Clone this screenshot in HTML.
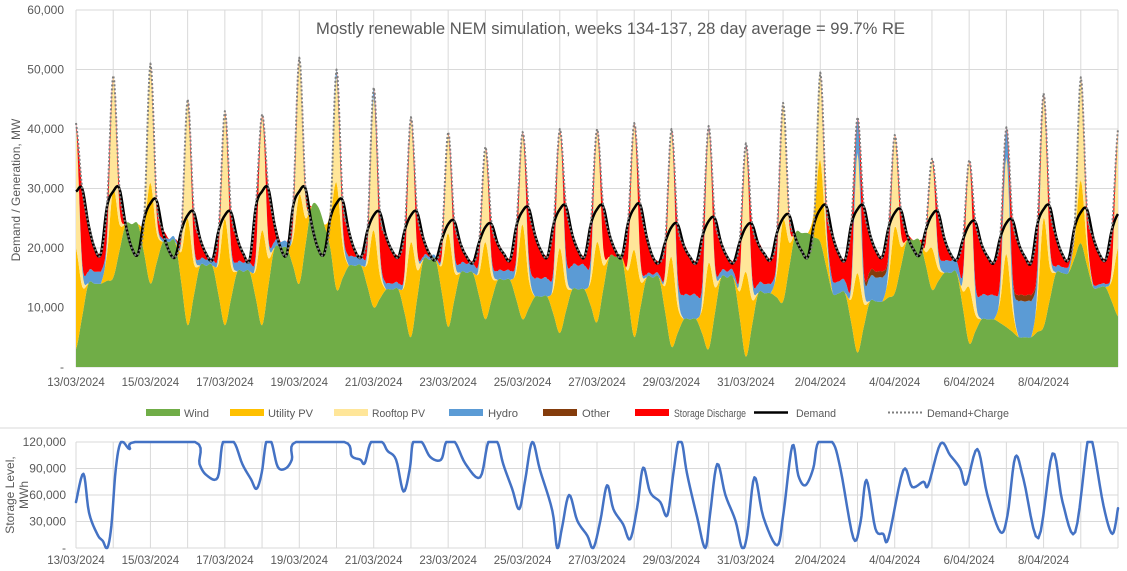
<!DOCTYPE html>
<html><head><meta charset="utf-8"><style>
html,body{margin:0;padding:0;background:#fff;}
svg{display:block;font-family:"Liberation Sans",Arial,sans-serif;}
</style></head><body>
<svg id="chart" width="1127" height="571" viewBox="0 0 1127 571" xmlns="http://www.w3.org/2000/svg">
<rect x="0" y="0" width="1127" height="571" fill="#fff"/>
<g id="grid"></g>
<g id="areas"></g>
<g id="lines"></g>
<g id="axes"></g>
<text x="316" y="34" textLength="589" lengthAdjust="spacingAndGlyphs" font-size="17" fill="#595959">Mostly renewable NEM simulation, weeks 134-137, 28 day average = 99.7% RE</text>
<text transform="translate(20,190) rotate(-90)" text-anchor="middle" font-size="12" fill="#595959">Demand / Generation, MW</text>
<text transform="translate(14,495) rotate(-90)" text-anchor="middle" font-size="12" fill="#595959">Storage Level,</text>
<text transform="translate(28,495) rotate(-90)" text-anchor="middle" font-size="12" fill="#595959">MWh</text>
<line x1="0" y1="428" x2="1127" y2="428" stroke="#d9d9d9" stroke-width="1"/>
<g font-size="11" fill="#595959">
<g><rect x="146" y="409" width="34" height="7" fill="#70ad47"/><text x="184" y="417" textLength="25" lengthAdjust="spacingAndGlyphs">Wind</text></g>
<g><rect x="230" y="409" width="34" height="7" fill="#ffc000"/><text x="268" y="417" textLength="45" lengthAdjust="spacingAndGlyphs">Utility PV</text></g>
<g><rect x="334" y="409" width="34" height="7" fill="#ffe699"/><text x="372" y="417" textLength="53" lengthAdjust="spacingAndGlyphs">Rooftop PV</text></g>
<g><rect x="449" y="409" width="34" height="7" fill="#5b9bd5"/><text x="488" y="417" textLength="30" lengthAdjust="spacingAndGlyphs">Hydro</text></g>
<g><rect x="543" y="409" width="34" height="7" fill="#843c0c"/><text x="582" y="417" textLength="28" lengthAdjust="spacingAndGlyphs">Other</text></g>
<g><rect x="635" y="409" width="34" height="7" fill="#ff0000"/><text x="674" y="417" textLength="72" lengthAdjust="spacingAndGlyphs">Storage Discharge</text></g>
<g><line x1="754" y1="412.5" x2="788" y2="412.5" stroke="#000" stroke-width="2.5"/><text x="796" y="417" textLength="40" lengthAdjust="spacingAndGlyphs">Demand</text></g>
<g><line x1="888" y1="412.5" x2="922" y2="412.5" stroke="#7f7f7f" stroke-width="2" stroke-dasharray="2 2"/><text x="927" y="417" textLength="82" lengthAdjust="spacingAndGlyphs">Demand+Charge</text></g>
</g>
</svg>
<script>
// ---- data (thousands of MW), 6 samples per day over 28 days, + final point ----
const wind = [3,8.5,14,14,14,14.5, 15,19.5,24,24,24,19, 14,17.5,21,21,21,14, 7,12,17,17,17,12, 7,11.5,16,16,16,11.5, 7,13.5,20,20,20,17, 14,20.5,27,27,24,20, 13,15,17,17,17,13.5, 10,11.5,13,13,13,9, 5,11.5,18,18,18,12.4, 6.7,11.3,15.8,15.8,15.8,11.9, 8,11.3,14.6,14.6,14.6,11.3, 8,9.9,11.8,11.8,11.8,8.8, 5.7,9.4,13,13,13,10.3, 7.5,13,18.5,18.5,18.5,11.8, 5,10,15,15,15,9.2, 3.4,5.7,8,8,8,5.5, 3,9,15,15,15,8.4, 1.7,7,12.4,12.4,12.4,11.7, 11,16.8,22.5,22.5,22.5,21.8, 21,16.7,12.4,12.4,12.4,7.4, 2.4,6.7,11,11,11,11.7, 12.4,16.9,21.3,21.3,21.3,17.2, 13,14.4,15.8,15.8,15.8,9.9, 4,6,8,8,8,7.4, 6.7,5.9,5,5,5,5.9, 6.7,11.3,15.8,15.8,15.8,18.3, 20.8,17.1,13.4,13.4,13.4,11, 8.5];
const utilityPV = [17,5,0,0,0,4.5, 15,4.5,0,0,0,5.1, 17,5.1,0,0,0,5.4, 18,5.4,0,0,0,5.4, 18,5.4,0,0,0,4.8, 16,4.8,0,0,0,4.5, 15,4.5,0,0,0,5.4, 18,5.4,0,0,0,3.9, 13,3.9,0,0,0,4.8, 16,4.8,0,0,0,4.7, 15.8,4.7,0,0,0,3.9, 13,3.9,0,0,0,4.8, 16,4.8,0,0,0,4.3, 14.3,4.3,0,0,0,4.1, 13.5,4.1,0,0,0,4.4, 14.7,4.4,0,0,0,4.5, 15.1,4.5,0,0,0,4.4, 14.5,4.4,0,0,0,4.3, 14.3,4.3,0,0,0,4.1, 13.7,4.1,0,0,0,4.1, 13.8,4.1,0,0,0,4, 13.4,4,0,0,0,3.3, 11.1,3.3,0,0,0,2.1, 7,2.1,0,0,0,2.8, 9.4,2.8,0,0,0,3.7, 12.3,3.7,0,0,0,5.5, 18.3,5.5,0,0,0,3.2, 10.6,3.2,0,0,0,3.5, 11.5];
const rooftopPV = [20.5,3,0,0,0,1.9, 19,2.9,0,0,0,2, 20,3,0,0,0,2, 20,3,0,0,0,1.8, 18,2.7,0,0,0,2, 19.5,2.9,0,0,0,2.3, 23,3.5,0,0,0,1.8, 18,2.7,0,0,0,2.3, 22.5,3.4,0,0,0,2.1, 21,3.2,0,0,0,1.7, 17,2.6,0,0,0,1.6, 16,2.4,0,0,0,1.6, 15.5,2.3,0,0,0,2, 20,3,0,0,0,1.9, 19,2.9,0,0,0,2.1, 21.3,3.2,0,0,0,2.2, 21.5,3.2,0,0,0,2.3, 22.5,3.4,0,0,0,2.1, 21.1,3.2,0,0,0,2, 19.7,3,0,0,0,1.5, 14.7,2.2,0,0,0,2, 20.2,3,0,0,0,1.6, 15.5,2.3,0,0,0,1.5, 15,2.3,0,0,0,2.1, 21.4,3.2,0,0,0,1.6, 16.3,2.4,0,0,0,2.1, 21,3.2,0,0,0,1.7, 17.3,2.6,0,0,0,2, 20];
const hydro = [0.5,1,2,2,2,1, 0,0,0,0,0,0, 0,0.3,0.5,0.5,0.5,0.3, 0,0.5,1,1,1,0.5, 0,0.8,1.5,1.5,1.5,0.8, 0,0.5,1,1,1,0.5, 0,0,0,0,0,0, 1,0.8,1.5,1.5,1.5,0.8, 1.5,0.8,1,1,1,0.5, 0,0.3,0.5,0.5,0.5,0.3, 0,0.8,1.5,1.5,1.5,0.8, 0,0.8,1.5,1.5,1.5,0.8, 0,1.5,3,3,3,1.5, 0,2,4,4,4,2, 0,0,0,0,0,0, 0,0.3,0.5,0.5,0.5,0.3, 0,2,4,4,4,2, 0.5,0.5,1,1,1,0.5, 0.5,0.8,1.5,1.5,1.5,0.8, 0,0,0,0,0,0, 0,1,2,2,2,1, 6,2,4,4,4,2, 0,0,0,0,0,0, 0,1,2,2,2,1, 0,2,4,4,4,2, 5,3,6,6,6,3, 0,0.5,1,1,1,0.5, 0,0.3,0.5,0.5,0.5,0.3, 0];
const other = [0,0,0,0,0,0, 0,0,0,0,0,0, 0,0,0,0,0,0, 0,0,0,0,0,0, 0,0,0,0,0,0, 0,0,0,0,0,0, 0,0,0,0,0,0, 0,0,0,0,0,0, 0,0,0,0,0,0, 0,0,0,0,0,0, 0,0,0,0,0,0, 0,0,0,0,0,0, 0,0,0,0,0,0, 0,0,0,0,0,0, 0,0,0,0,0,0, 0,0,0,0,0,0, 0,0,0,0,0,0, 0,0,0,0,0,0, 0,0,0,0,0,0, 0,0,0,0,0,0, 0,0,0,0,0,0, 0,0.5,1,1,1,0.5, 0,0,0,0,0,0, 0,0,0,0,0,0, 0,0,0,0,0,0, 0,0.5,1,1,1,0.5, 0,0,0,0,0,0, 0,0,0,0,0,0, 0];
const storageDischarge = [0,12.5,8,4,3,5.1, 0,3.1,0,0,0,0, 0,2.1,1.3,0,0,1.3, 0,5.1,3.6,1,0,3.3, 0,5.6,4.1,1.5,0.5,7.9, 0,8.3,3,0,0,2.7, 0,1.5,0,0,0,0, 0,4.1,4.3,1,0,2.5, 0,6.4,7.9,5.5,4.5,6.6, 0,6.2,3.1,0.5,0,2.4, 0,5.1,3.4,1.2,0.2,2.8, 0,5.6,4.6,2.9,1.9,5.2, 0,8.2,7.4,4.7,3.7,7.4, 0,8.3,5.3,2.5,1.5,5.7, 0,7,3.8,1,0,5.9, 0,9.3,6.4,3,2,4.8, 0,8.6,8.4,6.5,5.5,7.8, 0,7.7,4.9,2.5,1.5,5.7, 0,8.7,6.8,5.1,4.1,3.9, 0,1.6,0,0,0,0, 0,3,7.6,4.6,3.6,9.6, 0,10.8,6.3,3.5,2.5,4.3, 0,3.9,0.9,0,0,2.2, 0,6.2,3.8,1.2,0.2,5.6, 0,10.4,8.6,6.5,5.5,7, 0,9.2,8.7,6.5,5.5,7, 0,6.5,5.2,2.2,1.2,0, 0,3.3,7.9,5.1,4.1,6.2, 0];
const demand = [29.5,30,24,20,19,27, 29.5,30,24,20,19,25, 27.5,28,22.8,19.5,18.5,23, 25.5,26,21.6,19,18,23, 25.5,26,21.6,19,18,27, 29.5,30,24,20,19,27, 29.5,30,24,20,19,25, 27.5,28,22.8,19.5,18.5,23, 25.5,26,21.9,19.5,18.5,23, 25.5,26,21.6,19,18,21.5, 24,24.5,20.7,18.5,17.5,21, 23.5,24,20.7,19,18,23.7, 26.2,26.7,22.2,19.5,18.5,24, 26.5,27,22.3,19.5,18.5,24, 26.5,27,22.3,19.5,18.5,24.2, 26.7,27.2,21.9,18.5,17.5,21, 23.5,24,20.4,18.5,17.5,22, 24.5,25,20.9,18.5,17.5,21, 23.5,24,20.7,19,18,22.5, 25,25.5,21.7,19.5,18.5,24, 26.5,27,22,19,18,24, 26.5,27,22.3,19.5,18.5,23.4, 25.9,26.4,22.2,19.8,18.8,23, 25.5,26,21.6,19,18,21.4, 23.9,24.4,20.6,18.5,17.5,21.7, 24.2,24.7,20.7,18.5,17.5,24, 26.5,27,22,19,18,23.5, 26,26.5,21.8,19,18,23, 25.7];
const demandPlusCharge = [41,30,24,20,19,27, 49,30,24,20,19,25, 51,28,22.8,19.5,18.5,23, 45,26,21.6,19,18,23, 43,26,21.6,19,18,27, 42.5,30,24,20,19,27, 52,30,24,20,19,25, 50,28,22.8,19.5,18.5,23, 47,26,21.9,19.5,18.5,23, 42,26,21.6,19,18,21.5, 39.5,24.5,20.7,18.5,17.5,21, 37,24,20.7,19,18,23.7, 39.5,26.7,22.2,19.5,18.5,24, 40,27,22.3,19.5,18.5,24, 40,27,22.3,19.5,18.5,24.2, 41,27.2,21.9,18.5,17.5,21, 40,24,20.4,18.5,17.5,22, 40.5,25,20.9,18.5,17.5,21, 37.6,24,20.7,19,18,22.5, 44.4,25.5,21.7,19.5,18.5,24, 49.5,27,22,19,18,24, 42,27,22.3,19.5,18.5,23.4, 39,26.4,22.2,19.8,18.8,23, 35,26,21.6,19,18,21.4, 34.8,24.4,20.6,18.5,17.5,21.7, 40.3,24.7,20.7,18.5,17.5,24, 46,27,22,19,18,23.5, 48.7,26.5,21.8,19,18,23, 40];
// storage level (thousand MWh) at day offsets
const storageDays = [0,0.2,0.35,0.58,0.72,0.84,0.95,1.07,1.21,1.44,1.59,3.2,3.32,3.52,3.81,3.95,4.24,4.47,4.7,4.85,4.99,5.11,5.25,5.42,5.63,5.8,5.91,7.21,7.41,7.64,7.76,7.93,8.22,8.37,8.6,8.8,8.97,9.06,9.29,9.52,9.81,9.95,10.18,10.47,10.86,11.08,11.32,11.48,11.72,11.91,12.07,12.26,12.47,12.8,12.93,13.06,13.25,13.47,13.74,13.9,14.09,14.27,14.44,14.7,14.89,15.08,15.24,15.43,15.7,15.89,16.05,16.18,16.29,16.42,16.69,16.91,17.04,17.23,17.45,17.72,17.9,18.04,18.23,18.47,18.84,19.01,19.25,19.41,19.6,19.81,19.95,20.32,20.54,20.89,21.08,21.24,21.48,21.69,21.83,22.23,22.47,22.77,22.9,23.23,23.49,23.76,23.92,24.22,24.49,24.84,25.03,25.24,25.46,25.86,26.24,26.51,26.85,27.18,27.31,27.61,27.85,28];
const storageLevel = [52,84,40,15,8,0,25,90,120,112,120,120,95,82,80,120,120,95,78,67,85,120,120,92,90,100,120,120,104,100,96,120,120,110,100,64,90,120,120,103,100,120,120,95,80,120,120,95,67,44,77,120,88,42,0,23,60,31,14,0,31,71,44,27,10,46,91,63,52,37,84,120,118,84,35,0,39,95,60,31,0,16,80,35,3,39,116,82,71,90,120,120,90,11,29,77,22,16,11,88,69,75,71,118,105,90,72,112,60,18,37,103,78,11,107,52,18,120,120,48,16,45];
const xTickLabels = ["13/03/2024","15/03/2024","17/03/2024","19/03/2024","21/03/2024","23/03/2024","25/03/2024","27/03/2024","29/03/2024","31/03/2024","2/04/2024","4/04/2024","6/04/2024","8/04/2024"];
const yTicksTop = [0,10000,20000,30000,40000,50000,60000];
const yTicksBottom = [0,30000,60000,90000,120000];

const NS = "http://www.w3.org/2000/svg";
const X0 = 76, X1 = 1118, DAYS = 28, SAMPLES_PER_DAY = 6, SUB = 6;
const xDay = d => X0 + d * (X1 - X0) / DAYS;
const yTop = v => 367 - v * (357 / 60000);
const yBot = v => 548 - v * (106 / 120000);
function mk(tag, attrs, parent) {
  const e = document.createElementNS(NS, tag);
  for (const k in attrs) e.setAttribute(k, attrs[k]);
  parent.appendChild(e);
  return e;
}
// Catmull-Rom upsampling (rendering smoothness only)
function smooth(arr, lo, hi) {
  const out = [];
  const m = arr.length;
  for (let i = 0; i < m - 1; i++) {
    const p0 = arr[Math.max(0, i - 1)], p1 = arr[i], p2 = arr[i + 1], p3 = arr[Math.min(m - 1, i + 2)];
    for (let s = 0; s < SUB; s++) {
      const t = s / SUB, t2 = t * t, t3 = t2 * t;
      let v = 0.5 * (2 * p1 + (-p0 + p2) * t + (2 * p0 - 5 * p1 + 4 * p2 - p3) * t2 + (-p0 + 3 * p1 - 3 * p2 + p3) * t3);
      v = Math.max(lo, Math.min(hi, v));
      out.push(v);
    }
  }
  out.push(arr[m - 1]);
  return out;
}
const grid = document.getElementById('grid');
const axes = document.getElementById('axes');
const areas = document.getElementById('areas');
const lines = document.getElementById('lines');

for (const v of yTicksTop) {
  const l = mk('line', {x1: X0, x2: X1, y1: yTop(v), y2: yTop(v), stroke: '#d9d9d9', 'stroke-width': 1}, grid);
  
  
  const t = mk('text', {x: 64, y: yTop(v) + 4, 'text-anchor': 'end', 'font-size': 12, fill: '#595959'}, axes);
  t.textContent = v === 0 ? '-' : v.toLocaleString('en-US');
  
  
}
for (const v of yTicksBottom) {
  const l = mk('line', {x1: X0, x2: X1, y1: yBot(v), y2: yBot(v), stroke: '#d9d9d9', 'stroke-width': 1}, grid);
  
  
  const t = mk('text', {x: 66, y: yBot(v) + 4, 'text-anchor': 'end', 'font-size': 12, fill: '#595959'}, axes);
  t.textContent = v === 0 ? '-' : v.toLocaleString('en-US');
  
  
}
for (let d = 0; d <= DAYS; d++) {
  const a = mk('line', {x1: xDay(d), x2: xDay(d), y1: yTop(60000), y2: yTop(0), stroke: '#d9d9d9', 'stroke-width': 1}, grid);
  
  
  const b = mk('line', {x1: xDay(d), x2: xDay(d), y1: yBot(120000), y2: yBot(0), stroke: '#d9d9d9', 'stroke-width': 1}, grid);
  
  
}
xTickLabels.forEach((lab, i) => {
  const x = xDay(i * 2);
  const t1 = mk('text', {x: x, y: 386, 'text-anchor': 'middle', 'font-size': 11.5, fill: '#595959'}, axes);
  t1.textContent = lab;
  
  
  const t2 = mk('text', {x: x, y: 564, 'text-anchor': 'middle', 'font-size': 11.5, fill: '#595959'}, axes);
  t2.textContent = lab;
  
  
});

const layers = [
  {data: wind, color: '#70ad47', name: 'wind-area'},
  {data: utilityPV, color: '#ffc000', name: 'utility-pv-area'},
  {data: rooftopPV, color: '#ffe699', name: 'rooftop-pv-area'},
  {data: hydro, color: '#5b9bd5', name: 'hydro-area'},
  {data: other, color: '#843c0c', name: 'other-area'},
  {data: storageDischarge, color: '#ff0000', name: 'storage-discharge-area'}
];
const nS = (wind.length - 1) * SUB + 1;
const xs = i => xDay(i / (SAMPLES_PER_DAY * SUB));
let base = new Array(nS).fill(0);
for (const L of layers) {
  const sm = smooth(L.data, 0, 1000);
  const top = base.map((b, i) => b + sm[i]);
  let pts = [];
  for (let i = 0; i < nS; i++) pts.push(xs(i).toFixed(2) + ',' + yTop(top[i] * 1000).toFixed(2));
  for (let i = nS - 1; i >= 0; i--) pts.push(xs(i).toFixed(2) + ',' + yTop(base[i] * 1000).toFixed(2));
  const p = mk('polygon', {points: pts.join(' '), fill: L.color, stroke: 'none'}, areas);
  
  
  base = top;
}
function linePts(arr) {
  return smooth(arr, 0, 1000).map((v, i) => xs(i).toFixed(2) + ',' + yTop(v * 1000).toFixed(2)).join(' ');
}
const dem = mk('polyline', {points: linePts(demand), fill: 'none', stroke: '#000', 'stroke-width': 2.5, 'stroke-linejoin': 'round'}, lines);


const dc = mk('polyline', {points: linePts(demandPlusCharge), fill: 'none', stroke: '#7f7f7f', 'stroke-width': 2, 'stroke-dasharray': '2 2', 'stroke-linejoin': 'round'}, lines);



// storage level line (smoothed between read points)
const sd = smooth(storageDays, 0, 28);
const sv = smooth(storageLevel, 0, 120);
const sp = sd.map((d, i) => xDay(d).toFixed(2) + ',' + yBot(sv[i] * 1000).toFixed(2)).join(' ');
const sl = mk('polyline', {points: sp, fill: 'none', stroke: '#4472c4', 'stroke-width': 2.5, 'stroke-linejoin': 'round', 'stroke-linecap': 'round'}, lines);


</script>
</body></html>
